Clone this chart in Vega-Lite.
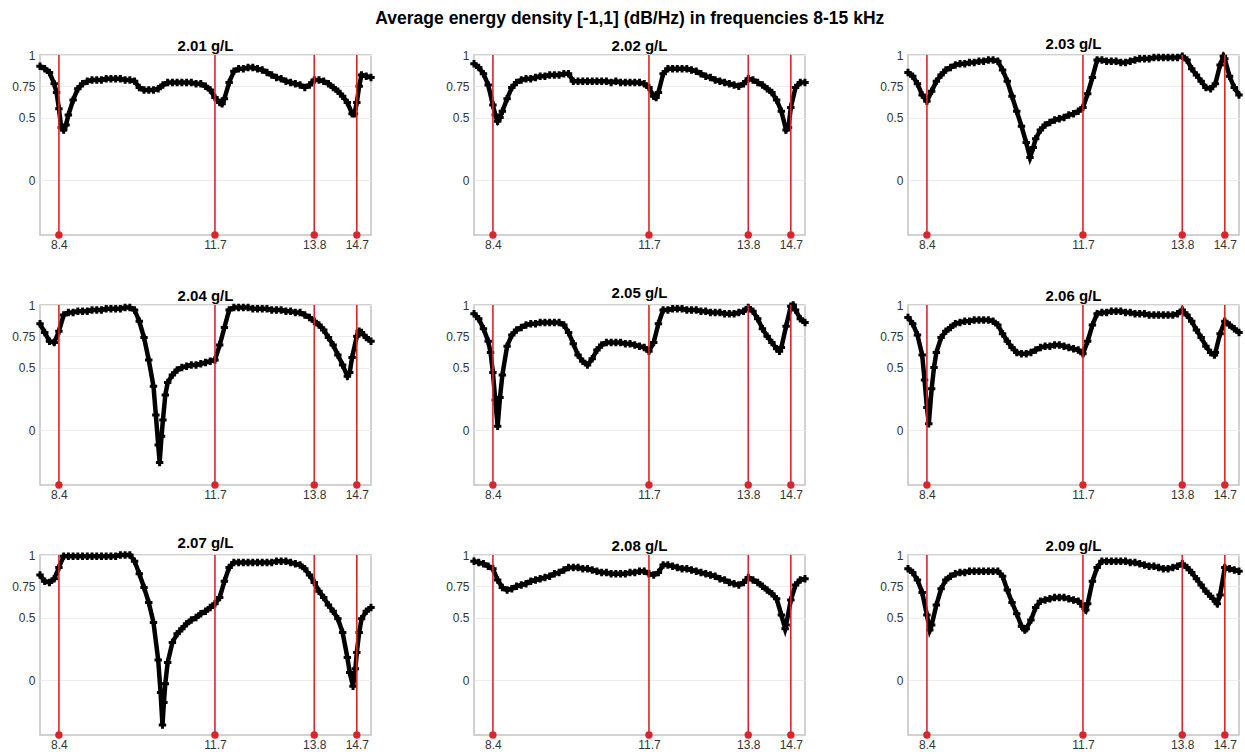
{
  "$schema": "https://vega.github.io/schema/vega-lite/v6.json",
  "background": "white",
  "padding": {"left": 10, "top": 10, "right": 5, "bottom": 5},
  "title": {
    "text": "Average energy density [-1,1] (dB/Hz) in frequencies 8-15 kHz",
    "font": "Liberation Sans", "fontSize": 17.5, "fontWeight": "bold", "color": "black",
    "anchor": "middle", "offset": 9
  },
  "data": {"values": [
    {"c":"2.01 g/L","m":8.4},{"c":"2.01 g/L","m":11.7},{"c":"2.01 g/L","m":13.8},{"c":"2.01 g/L","m":14.7},
    {"c":"2.02 g/L","m":8.4},{"c":"2.02 g/L","m":11.7},{"c":"2.02 g/L","m":13.8},{"c":"2.02 g/L","m":14.7},
    {"c":"2.03 g/L","m":8.4},{"c":"2.03 g/L","m":11.7},{"c":"2.03 g/L","m":13.8},{"c":"2.03 g/L","m":14.7},
    {"c":"2.04 g/L","m":8.4},{"c":"2.04 g/L","m":11.7},{"c":"2.04 g/L","m":13.8},{"c":"2.04 g/L","m":14.7},
    {"c":"2.05 g/L","m":8.4},{"c":"2.05 g/L","m":11.7},{"c":"2.05 g/L","m":13.8},{"c":"2.05 g/L","m":14.7},
    {"c":"2.06 g/L","m":8.4},{"c":"2.06 g/L","m":11.7},{"c":"2.06 g/L","m":13.8},{"c":"2.06 g/L","m":14.7},
    {"c":"2.07 g/L","m":8.4},{"c":"2.07 g/L","m":11.7},{"c":"2.07 g/L","m":13.8},{"c":"2.07 g/L","m":14.7},
    {"c":"2.08 g/L","m":8.4},{"c":"2.08 g/L","m":11.7},{"c":"2.08 g/L","m":13.8},{"c":"2.08 g/L","m":14.7},
    {"c":"2.09 g/L","m":8.4},{"c":"2.09 g/L","m":11.7},{"c":"2.09 g/L","m":13.8},{"c":"2.09 g/L","m":14.7},

    {"c":"2.01 g/L","f":8.0,"v":0.91},{"c":"2.01 g/L","f":8.1,"v":0.89},{"c":"2.01 g/L","f":8.2,"v":0.86},{"c":"2.01 g/L","f":8.3,"v":0.77},{"c":"2.01 g/L","f":8.35,"v":0.70},{"c":"2.01 g/L","f":8.4,"v":0.57},{"c":"2.01 g/L","f":8.45,"v":0.42},{"c":"2.01 g/L","f":8.5,"v":0.40},{"c":"2.01 g/L","f":8.55,"v":0.44},{"c":"2.01 g/L","f":8.6,"v":0.52},{"c":"2.01 g/L","f":8.7,"v":0.64},{"c":"2.01 g/L","f":8.8,"v":0.73},{"c":"2.01 g/L","f":8.9,"v":0.77},{"c":"2.01 g/L","f":9.0,"v":0.79},{"c":"2.01 g/L","f":9.1,"v":0.80},{"c":"2.01 g/L","f":9.2,"v":0.80},{"c":"2.01 g/L","f":9.3,"v":0.80},{"c":"2.01 g/L","f":9.4,"v":0.81},{"c":"2.01 g/L","f":9.5,"v":0.81},{"c":"2.01 g/L","f":9.6,"v":0.81},{"c":"2.01 g/L","f":9.7,"v":0.81},{"c":"2.01 g/L","f":9.8,"v":0.80},{"c":"2.01 g/L","f":9.9,"v":0.80},{"c":"2.01 g/L","f":10.0,"v":0.79},{"c":"2.01 g/L","f":10.1,"v":0.74},{"c":"2.01 g/L","f":10.2,"v":0.72},{"c":"2.01 g/L","f":10.3,"v":0.72},{"c":"2.01 g/L","f":10.4,"v":0.72},{"c":"2.01 g/L","f":10.5,"v":0.73},{"c":"2.01 g/L","f":10.6,"v":0.76},{"c":"2.01 g/L","f":10.7,"v":0.78},{"c":"2.01 g/L","f":10.8,"v":0.78},{"c":"2.01 g/L","f":10.9,"v":0.78},{"c":"2.01 g/L","f":11.0,"v":0.78},{"c":"2.01 g/L","f":11.1,"v":0.78},{"c":"2.01 g/L","f":11.2,"v":0.78},{"c":"2.01 g/L","f":11.3,"v":0.77},{"c":"2.01 g/L","f":11.4,"v":0.77},{"c":"2.01 g/L","f":11.5,"v":0.75},{"c":"2.01 g/L","f":11.6,"v":0.72},{"c":"2.01 g/L","f":11.7,"v":0.66},{"c":"2.01 g/L","f":11.8,"v":0.62},{"c":"2.01 g/L","f":11.85,"v":0.61},{"c":"2.01 g/L","f":11.9,"v":0.65},{"c":"2.01 g/L","f":12.0,"v":0.78},{"c":"2.01 g/L","f":12.1,"v":0.87},{"c":"2.01 g/L","f":12.2,"v":0.89},{"c":"2.01 g/L","f":12.3,"v":0.89},{"c":"2.01 g/L","f":12.4,"v":0.90},{"c":"2.01 g/L","f":12.5,"v":0.90},{"c":"2.01 g/L","f":12.6,"v":0.89},{"c":"2.01 g/L","f":12.7,"v":0.88},{"c":"2.01 g/L","f":12.8,"v":0.86},{"c":"2.01 g/L","f":12.9,"v":0.84},{"c":"2.01 g/L","f":13.0,"v":0.82},{"c":"2.01 g/L","f":13.1,"v":0.81},{"c":"2.01 g/L","f":13.2,"v":0.79},{"c":"2.01 g/L","f":13.3,"v":0.78},{"c":"2.01 g/L","f":13.4,"v":0.77},{"c":"2.01 g/L","f":13.5,"v":0.76},{"c":"2.01 g/L","f":13.6,"v":0.74},{"c":"2.01 g/L","f":13.7,"v":0.76},{"c":"2.01 g/L","f":13.8,"v":0.80},{"c":"2.01 g/L","f":13.9,"v":0.80},{"c":"2.01 g/L","f":14.0,"v":0.79},{"c":"2.01 g/L","f":14.1,"v":0.77},{"c":"2.01 g/L","f":14.2,"v":0.74},{"c":"2.01 g/L","f":14.3,"v":0.71},{"c":"2.01 g/L","f":14.4,"v":0.67},{"c":"2.01 g/L","f":14.5,"v":0.62},{"c":"2.01 g/L","f":14.6,"v":0.53},{"c":"2.01 g/L","f":14.65,"v":0.53},{"c":"2.01 g/L","f":14.7,"v":0.62},{"c":"2.01 g/L","f":14.75,"v":0.75},{"c":"2.01 g/L","f":14.8,"v":0.84},{"c":"2.01 g/L","f":14.9,"v":0.83},{"c":"2.01 g/L","f":15.0,"v":0.82},

    {"c":"2.02 g/L","f":8.0,"v":0.93},{"c":"2.02 g/L","f":8.1,"v":0.90},{"c":"2.02 g/L","f":8.2,"v":0.85},{"c":"2.02 g/L","f":8.3,"v":0.76},{"c":"2.02 g/L","f":8.4,"v":0.60},{"c":"2.02 g/L","f":8.45,"v":0.52},{"c":"2.02 g/L","f":8.5,"v":0.47},{"c":"2.02 g/L","f":8.55,"v":0.50},{"c":"2.02 g/L","f":8.6,"v":0.55},{"c":"2.02 g/L","f":8.7,"v":0.65},{"c":"2.02 g/L","f":8.8,"v":0.74},{"c":"2.02 g/L","f":8.9,"v":0.78},{"c":"2.02 g/L","f":9.0,"v":0.80},{"c":"2.02 g/L","f":9.1,"v":0.81},{"c":"2.02 g/L","f":9.2,"v":0.81},{"c":"2.02 g/L","f":9.3,"v":0.82},{"c":"2.02 g/L","f":9.4,"v":0.83},{"c":"2.02 g/L","f":9.5,"v":0.83},{"c":"2.02 g/L","f":9.6,"v":0.84},{"c":"2.02 g/L","f":9.7,"v":0.84},{"c":"2.02 g/L","f":9.8,"v":0.84},{"c":"2.02 g/L","f":9.9,"v":0.85},{"c":"2.02 g/L","f":10.0,"v":0.85},{"c":"2.02 g/L","f":10.1,"v":0.79},{"c":"2.02 g/L","f":10.2,"v":0.79},{"c":"2.02 g/L","f":10.3,"v":0.79},{"c":"2.02 g/L","f":10.4,"v":0.79},{"c":"2.02 g/L","f":10.5,"v":0.79},{"c":"2.02 g/L","f":10.6,"v":0.79},{"c":"2.02 g/L","f":10.7,"v":0.79},{"c":"2.02 g/L","f":10.8,"v":0.79},{"c":"2.02 g/L","f":10.9,"v":0.78},{"c":"2.02 g/L","f":11.0,"v":0.79},{"c":"2.02 g/L","f":11.1,"v":0.78},{"c":"2.02 g/L","f":11.2,"v":0.78},{"c":"2.02 g/L","f":11.3,"v":0.78},{"c":"2.02 g/L","f":11.4,"v":0.78},{"c":"2.02 g/L","f":11.5,"v":0.78},{"c":"2.02 g/L","f":11.6,"v":0.77},{"c":"2.02 g/L","f":11.7,"v":0.74},{"c":"2.02 g/L","f":11.8,"v":0.67},{"c":"2.02 g/L","f":11.85,"v":0.66},{"c":"2.02 g/L","f":11.9,"v":0.70},{"c":"2.02 g/L","f":12.0,"v":0.85},{"c":"2.02 g/L","f":12.1,"v":0.89},{"c":"2.02 g/L","f":12.2,"v":0.89},{"c":"2.02 g/L","f":12.3,"v":0.89},{"c":"2.02 g/L","f":12.4,"v":0.89},{"c":"2.02 g/L","f":12.5,"v":0.89},{"c":"2.02 g/L","f":12.6,"v":0.88},{"c":"2.02 g/L","f":12.7,"v":0.87},{"c":"2.02 g/L","f":12.8,"v":0.85},{"c":"2.02 g/L","f":12.9,"v":0.83},{"c":"2.02 g/L","f":13.0,"v":0.82},{"c":"2.02 g/L","f":13.1,"v":0.80},{"c":"2.02 g/L","f":13.2,"v":0.79},{"c":"2.02 g/L","f":13.3,"v":0.78},{"c":"2.02 g/L","f":13.4,"v":0.77},{"c":"2.02 g/L","f":13.5,"v":0.76},{"c":"2.02 g/L","f":13.6,"v":0.75},{"c":"2.02 g/L","f":13.7,"v":0.77},{"c":"2.02 g/L","f":13.8,"v":0.81},{"c":"2.02 g/L","f":13.9,"v":0.80},{"c":"2.02 g/L","f":14.0,"v":0.78},{"c":"2.02 g/L","f":14.1,"v":0.76},{"c":"2.02 g/L","f":14.2,"v":0.73},{"c":"2.02 g/L","f":14.3,"v":0.70},{"c":"2.02 g/L","f":14.4,"v":0.64},{"c":"2.02 g/L","f":14.5,"v":0.55},{"c":"2.02 g/L","f":14.6,"v":0.40},{"c":"2.02 g/L","f":14.65,"v":0.42},{"c":"2.02 g/L","f":14.7,"v":0.58},{"c":"2.02 g/L","f":14.8,"v":0.74},{"c":"2.02 g/L","f":14.9,"v":0.78},{"c":"2.02 g/L","f":15.0,"v":0.78},

    {"c":"2.03 g/L","f":8.0,"v":0.86},{"c":"2.03 g/L","f":8.1,"v":0.83},{"c":"2.03 g/L","f":8.2,"v":0.77},{"c":"2.03 g/L","f":8.3,"v":0.68},{"c":"2.03 g/L","f":8.4,"v":0.63},{"c":"2.03 g/L","f":8.5,"v":0.71},{"c":"2.03 g/L","f":8.6,"v":0.79},{"c":"2.03 g/L","f":8.7,"v":0.84},{"c":"2.03 g/L","f":8.8,"v":0.88},{"c":"2.03 g/L","f":8.9,"v":0.90},{"c":"2.03 g/L","f":9.0,"v":0.92},{"c":"2.03 g/L","f":9.1,"v":0.93},{"c":"2.03 g/L","f":9.2,"v":0.93},{"c":"2.03 g/L","f":9.3,"v":0.94},{"c":"2.03 g/L","f":9.4,"v":0.94},{"c":"2.03 g/L","f":9.5,"v":0.95},{"c":"2.03 g/L","f":9.6,"v":0.95},{"c":"2.03 g/L","f":9.7,"v":0.96},{"c":"2.03 g/L","f":9.8,"v":0.96},{"c":"2.03 g/L","f":9.9,"v":0.95},{"c":"2.03 g/L","f":10.0,"v":0.88},{"c":"2.03 g/L","f":10.1,"v":0.79},{"c":"2.03 g/L","f":10.2,"v":0.67},{"c":"2.03 g/L","f":10.3,"v":0.55},{"c":"2.03 g/L","f":10.4,"v":0.43},{"c":"2.03 g/L","f":10.5,"v":0.30},{"c":"2.03 g/L","f":10.58,"v":0.18},{"c":"2.03 g/L","f":10.65,"v":0.26},{"c":"2.03 g/L","f":10.7,"v":0.33},{"c":"2.03 g/L","f":10.8,"v":0.40},{"c":"2.03 g/L","f":10.9,"v":0.44},{"c":"2.03 g/L","f":11.0,"v":0.46},{"c":"2.03 g/L","f":11.1,"v":0.48},{"c":"2.03 g/L","f":11.2,"v":0.49},{"c":"2.03 g/L","f":11.3,"v":0.50},{"c":"2.03 g/L","f":11.4,"v":0.52},{"c":"2.03 g/L","f":11.5,"v":0.53},{"c":"2.03 g/L","f":11.6,"v":0.55},{"c":"2.03 g/L","f":11.7,"v":0.58},{"c":"2.03 g/L","f":11.8,"v":0.69},{"c":"2.03 g/L","f":11.9,"v":0.82},{"c":"2.03 g/L","f":12.0,"v":0.96},{"c":"2.03 g/L","f":12.1,"v":0.96},{"c":"2.03 g/L","f":12.2,"v":0.95},{"c":"2.03 g/L","f":12.3,"v":0.95},{"c":"2.03 g/L","f":12.4,"v":0.95},{"c":"2.03 g/L","f":12.5,"v":0.94},{"c":"2.03 g/L","f":12.6,"v":0.94},{"c":"2.03 g/L","f":12.7,"v":0.95},{"c":"2.03 g/L","f":12.8,"v":0.96},{"c":"2.03 g/L","f":12.9,"v":0.97},{"c":"2.03 g/L","f":13.0,"v":0.97},{"c":"2.03 g/L","f":13.1,"v":0.97},{"c":"2.03 g/L","f":13.2,"v":0.98},{"c":"2.03 g/L","f":13.3,"v":0.98},{"c":"2.03 g/L","f":13.4,"v":0.98},{"c":"2.03 g/L","f":13.5,"v":0.98},{"c":"2.03 g/L","f":13.6,"v":0.98},{"c":"2.03 g/L","f":13.7,"v":0.98},{"c":"2.03 g/L","f":13.8,"v":0.99},{"c":"2.03 g/L","f":13.9,"v":0.96},{"c":"2.03 g/L","f":14.0,"v":0.89},{"c":"2.03 g/L","f":14.1,"v":0.84},{"c":"2.03 g/L","f":14.2,"v":0.79},{"c":"2.03 g/L","f":14.3,"v":0.74},{"c":"2.03 g/L","f":14.4,"v":0.73},{"c":"2.03 g/L","f":14.5,"v":0.77},{"c":"2.03 g/L","f":14.6,"v":0.92},{"c":"2.03 g/L","f":14.67,"v":0.99},{"c":"2.03 g/L","f":14.7,"v":0.97},{"c":"2.03 g/L","f":14.8,"v":0.83},{"c":"2.03 g/L","f":14.9,"v":0.74},{"c":"2.03 g/L","f":15.0,"v":0.68},

    {"c":"2.04 g/L","f":8.0,"v":0.85},{"c":"2.04 g/L","f":8.1,"v":0.78},{"c":"2.04 g/L","f":8.2,"v":0.71},{"c":"2.04 g/L","f":8.3,"v":0.70},{"c":"2.04 g/L","f":8.4,"v":0.79},{"c":"2.04 g/L","f":8.5,"v":0.92},{"c":"2.04 g/L","f":8.6,"v":0.94},{"c":"2.04 g/L","f":8.7,"v":0.94},{"c":"2.04 g/L","f":8.8,"v":0.95},{"c":"2.04 g/L","f":8.9,"v":0.95},{"c":"2.04 g/L","f":9.0,"v":0.95},{"c":"2.04 g/L","f":9.1,"v":0.96},{"c":"2.04 g/L","f":9.2,"v":0.96},{"c":"2.04 g/L","f":9.3,"v":0.96},{"c":"2.04 g/L","f":9.4,"v":0.97},{"c":"2.04 g/L","f":9.5,"v":0.97},{"c":"2.04 g/L","f":9.6,"v":0.97},{"c":"2.04 g/L","f":9.7,"v":0.97},{"c":"2.04 g/L","f":9.8,"v":0.98},{"c":"2.04 g/L","f":9.9,"v":0.98},{"c":"2.04 g/L","f":10.0,"v":0.96},{"c":"2.04 g/L","f":10.1,"v":0.87},{"c":"2.04 g/L","f":10.2,"v":0.74},{"c":"2.04 g/L","f":10.3,"v":0.56},{"c":"2.04 g/L","f":10.4,"v":0.35},{"c":"2.04 g/L","f":10.45,"v":0.12},{"c":"2.04 g/L","f":10.5,"v":-0.12},{"c":"2.04 g/L","f":10.53,"v":-0.26},{"c":"2.04 g/L","f":10.57,"v":-0.05},{"c":"2.04 g/L","f":10.6,"v":0.08},{"c":"2.04 g/L","f":10.65,"v":0.28},{"c":"2.04 g/L","f":10.7,"v":0.38},{"c":"2.04 g/L","f":10.8,"v":0.44},{"c":"2.04 g/L","f":10.9,"v":0.48},{"c":"2.04 g/L","f":11.0,"v":0.50},{"c":"2.04 g/L","f":11.1,"v":0.51},{"c":"2.04 g/L","f":11.2,"v":0.52},{"c":"2.04 g/L","f":11.3,"v":0.52},{"c":"2.04 g/L","f":11.4,"v":0.53},{"c":"2.04 g/L","f":11.5,"v":0.54},{"c":"2.04 g/L","f":11.6,"v":0.55},{"c":"2.04 g/L","f":11.7,"v":0.56},{"c":"2.04 g/L","f":11.8,"v":0.68},{"c":"2.04 g/L","f":11.9,"v":0.82},{"c":"2.04 g/L","f":12.0,"v":0.96},{"c":"2.04 g/L","f":12.1,"v":0.98},{"c":"2.04 g/L","f":12.2,"v":0.98},{"c":"2.04 g/L","f":12.3,"v":0.98},{"c":"2.04 g/L","f":12.4,"v":0.98},{"c":"2.04 g/L","f":12.5,"v":0.97},{"c":"2.04 g/L","f":12.6,"v":0.97},{"c":"2.04 g/L","f":12.7,"v":0.97},{"c":"2.04 g/L","f":12.8,"v":0.97},{"c":"2.04 g/L","f":12.9,"v":0.96},{"c":"2.04 g/L","f":13.0,"v":0.96},{"c":"2.04 g/L","f":13.1,"v":0.96},{"c":"2.04 g/L","f":13.2,"v":0.95},{"c":"2.04 g/L","f":13.3,"v":0.95},{"c":"2.04 g/L","f":13.4,"v":0.94},{"c":"2.04 g/L","f":13.5,"v":0.94},{"c":"2.04 g/L","f":13.6,"v":0.92},{"c":"2.04 g/L","f":13.7,"v":0.90},{"c":"2.04 g/L","f":13.8,"v":0.87},{"c":"2.04 g/L","f":13.9,"v":0.84},{"c":"2.04 g/L","f":14.0,"v":0.80},{"c":"2.04 g/L","f":14.1,"v":0.74},{"c":"2.04 g/L","f":14.2,"v":0.68},{"c":"2.04 g/L","f":14.3,"v":0.60},{"c":"2.04 g/L","f":14.4,"v":0.52},{"c":"2.04 g/L","f":14.5,"v":0.43},{"c":"2.04 g/L","f":14.55,"v":0.46},{"c":"2.04 g/L","f":14.6,"v":0.58},{"c":"2.04 g/L","f":14.7,"v":0.75},{"c":"2.04 g/L","f":14.75,"v":0.79},{"c":"2.04 g/L","f":14.8,"v":0.78},{"c":"2.04 g/L","f":14.9,"v":0.74},{"c":"2.04 g/L","f":15.0,"v":0.71},

    {"c":"2.05 g/L","f":8.0,"v":0.93},{"c":"2.05 g/L","f":8.1,"v":0.89},{"c":"2.05 g/L","f":8.2,"v":0.81},{"c":"2.05 g/L","f":8.3,"v":0.71},{"c":"2.05 g/L","f":8.35,"v":0.62},{"c":"2.05 g/L","f":8.4,"v":0.46},{"c":"2.05 g/L","f":8.45,"v":0.24},{"c":"2.05 g/L","f":8.5,"v":0.03},{"c":"2.05 g/L","f":8.55,"v":0.26},{"c":"2.05 g/L","f":8.6,"v":0.44},{"c":"2.05 g/L","f":8.7,"v":0.67},{"c":"2.05 g/L","f":8.8,"v":0.76},{"c":"2.05 g/L","f":8.9,"v":0.80},{"c":"2.05 g/L","f":9.0,"v":0.82},{"c":"2.05 g/L","f":9.1,"v":0.84},{"c":"2.05 g/L","f":9.2,"v":0.85},{"c":"2.05 g/L","f":9.3,"v":0.85},{"c":"2.05 g/L","f":9.4,"v":0.86},{"c":"2.05 g/L","f":9.5,"v":0.86},{"c":"2.05 g/L","f":9.6,"v":0.86},{"c":"2.05 g/L","f":9.7,"v":0.86},{"c":"2.05 g/L","f":9.8,"v":0.86},{"c":"2.05 g/L","f":9.9,"v":0.84},{"c":"2.05 g/L","f":10.0,"v":0.78},{"c":"2.05 g/L","f":10.1,"v":0.69},{"c":"2.05 g/L","f":10.2,"v":0.60},{"c":"2.05 g/L","f":10.3,"v":0.55},{"c":"2.05 g/L","f":10.4,"v":0.52},{"c":"2.05 g/L","f":10.5,"v":0.57},{"c":"2.05 g/L","f":10.6,"v":0.64},{"c":"2.05 g/L","f":10.7,"v":0.68},{"c":"2.05 g/L","f":10.8,"v":0.70},{"c":"2.05 g/L","f":10.9,"v":0.70},{"c":"2.05 g/L","f":11.0,"v":0.70},{"c":"2.05 g/L","f":11.1,"v":0.70},{"c":"2.05 g/L","f":11.2,"v":0.69},{"c":"2.05 g/L","f":11.3,"v":0.69},{"c":"2.05 g/L","f":11.4,"v":0.68},{"c":"2.05 g/L","f":11.5,"v":0.67},{"c":"2.05 g/L","f":11.6,"v":0.66},{"c":"2.05 g/L","f":11.7,"v":0.63},{"c":"2.05 g/L","f":11.8,"v":0.70},{"c":"2.05 g/L","f":11.9,"v":0.85},{"c":"2.05 g/L","f":12.0,"v":0.96},{"c":"2.05 g/L","f":12.1,"v":0.96},{"c":"2.05 g/L","f":12.2,"v":0.97},{"c":"2.05 g/L","f":12.3,"v":0.97},{"c":"2.05 g/L","f":12.4,"v":0.97},{"c":"2.05 g/L","f":12.5,"v":0.96},{"c":"2.05 g/L","f":12.6,"v":0.96},{"c":"2.05 g/L","f":12.7,"v":0.96},{"c":"2.05 g/L","f":12.8,"v":0.95},{"c":"2.05 g/L","f":12.9,"v":0.95},{"c":"2.05 g/L","f":13.0,"v":0.94},{"c":"2.05 g/L","f":13.1,"v":0.94},{"c":"2.05 g/L","f":13.2,"v":0.94},{"c":"2.05 g/L","f":13.3,"v":0.93},{"c":"2.05 g/L","f":13.4,"v":0.93},{"c":"2.05 g/L","f":13.5,"v":0.93},{"c":"2.05 g/L","f":13.6,"v":0.94},{"c":"2.05 g/L","f":13.7,"v":0.95},{"c":"2.05 g/L","f":13.8,"v":0.98},{"c":"2.05 g/L","f":13.9,"v":0.95},{"c":"2.05 g/L","f":14.0,"v":0.89},{"c":"2.05 g/L","f":14.1,"v":0.81},{"c":"2.05 g/L","f":14.2,"v":0.75},{"c":"2.05 g/L","f":14.3,"v":0.70},{"c":"2.05 g/L","f":14.4,"v":0.65},{"c":"2.05 g/L","f":14.46,"v":0.63},{"c":"2.05 g/L","f":14.5,"v":0.66},{"c":"2.05 g/L","f":14.6,"v":0.83},{"c":"2.05 g/L","f":14.7,"v":0.99},{"c":"2.05 g/L","f":14.75,"v":1.0},{"c":"2.05 g/L","f":14.8,"v":0.96},{"c":"2.05 g/L","f":14.9,"v":0.89},{"c":"2.05 g/L","f":15.0,"v":0.86},

    {"c":"2.06 g/L","f":8.0,"v":0.90},{"c":"2.06 g/L","f":8.1,"v":0.85},{"c":"2.06 g/L","f":8.2,"v":0.76},{"c":"2.06 g/L","f":8.3,"v":0.60},{"c":"2.06 g/L","f":8.35,"v":0.40},{"c":"2.06 g/L","f":8.4,"v":0.18},{"c":"2.06 g/L","f":8.44,"v":0.05},{"c":"2.06 g/L","f":8.5,"v":0.33},{"c":"2.06 g/L","f":8.55,"v":0.50},{"c":"2.06 g/L","f":8.6,"v":0.62},{"c":"2.06 g/L","f":8.7,"v":0.74},{"c":"2.06 g/L","f":8.8,"v":0.79},{"c":"2.06 g/L","f":8.9,"v":0.82},{"c":"2.06 g/L","f":9.0,"v":0.85},{"c":"2.06 g/L","f":9.1,"v":0.86},{"c":"2.06 g/L","f":9.2,"v":0.87},{"c":"2.06 g/L","f":9.3,"v":0.87},{"c":"2.06 g/L","f":9.4,"v":0.88},{"c":"2.06 g/L","f":9.5,"v":0.88},{"c":"2.06 g/L","f":9.6,"v":0.88},{"c":"2.06 g/L","f":9.7,"v":0.88},{"c":"2.06 g/L","f":9.8,"v":0.87},{"c":"2.06 g/L","f":9.9,"v":0.84},{"c":"2.06 g/L","f":10.0,"v":0.77},{"c":"2.06 g/L","f":10.1,"v":0.71},{"c":"2.06 g/L","f":10.2,"v":0.66},{"c":"2.06 g/L","f":10.3,"v":0.62},{"c":"2.06 g/L","f":10.4,"v":0.61},{"c":"2.06 g/L","f":10.5,"v":0.61},{"c":"2.06 g/L","f":10.6,"v":0.62},{"c":"2.06 g/L","f":10.7,"v":0.64},{"c":"2.06 g/L","f":10.8,"v":0.66},{"c":"2.06 g/L","f":10.9,"v":0.67},{"c":"2.06 g/L","f":11.0,"v":0.67},{"c":"2.06 g/L","f":11.1,"v":0.68},{"c":"2.06 g/L","f":11.2,"v":0.68},{"c":"2.06 g/L","f":11.3,"v":0.67},{"c":"2.06 g/L","f":11.4,"v":0.66},{"c":"2.06 g/L","f":11.5,"v":0.65},{"c":"2.06 g/L","f":11.6,"v":0.64},{"c":"2.06 g/L","f":11.7,"v":0.61},{"c":"2.06 g/L","f":11.8,"v":0.71},{"c":"2.06 g/L","f":11.9,"v":0.84},{"c":"2.06 g/L","f":12.0,"v":0.93},{"c":"2.06 g/L","f":12.1,"v":0.94},{"c":"2.06 g/L","f":12.2,"v":0.94},{"c":"2.06 g/L","f":12.3,"v":0.95},{"c":"2.06 g/L","f":12.4,"v":0.95},{"c":"2.06 g/L","f":12.5,"v":0.95},{"c":"2.06 g/L","f":12.6,"v":0.94},{"c":"2.06 g/L","f":12.7,"v":0.94},{"c":"2.06 g/L","f":12.8,"v":0.93},{"c":"2.06 g/L","f":12.9,"v":0.93},{"c":"2.06 g/L","f":13.0,"v":0.93},{"c":"2.06 g/L","f":13.1,"v":0.92},{"c":"2.06 g/L","f":13.2,"v":0.92},{"c":"2.06 g/L","f":13.3,"v":0.92},{"c":"2.06 g/L","f":13.4,"v":0.92},{"c":"2.06 g/L","f":13.5,"v":0.92},{"c":"2.06 g/L","f":13.6,"v":0.92},{"c":"2.06 g/L","f":13.7,"v":0.93},{"c":"2.06 g/L","f":13.8,"v":0.96},{"c":"2.06 g/L","f":13.9,"v":0.92},{"c":"2.06 g/L","f":14.0,"v":0.87},{"c":"2.06 g/L","f":14.1,"v":0.80},{"c":"2.06 g/L","f":14.2,"v":0.74},{"c":"2.06 g/L","f":14.3,"v":0.67},{"c":"2.06 g/L","f":14.4,"v":0.62},{"c":"2.06 g/L","f":14.48,"v":0.60},{"c":"2.06 g/L","f":14.5,"v":0.62},{"c":"2.06 g/L","f":14.6,"v":0.77},{"c":"2.06 g/L","f":14.7,"v":0.87},{"c":"2.06 g/L","f":14.8,"v":0.84},{"c":"2.06 g/L","f":14.9,"v":0.81},{"c":"2.06 g/L","f":15.0,"v":0.78},

    {"c":"2.07 g/L","f":8.0,"v":0.84},{"c":"2.07 g/L","f":8.1,"v":0.79},{"c":"2.07 g/L","f":8.2,"v":0.78},{"c":"2.07 g/L","f":8.3,"v":0.81},{"c":"2.07 g/L","f":8.4,"v":0.90},{"c":"2.07 g/L","f":8.5,"v":0.99},{"c":"2.07 g/L","f":8.6,"v":0.99},{"c":"2.07 g/L","f":8.7,"v":0.99},{"c":"2.07 g/L","f":8.8,"v":0.99},{"c":"2.07 g/L","f":8.9,"v":0.99},{"c":"2.07 g/L","f":9.0,"v":0.99},{"c":"2.07 g/L","f":9.1,"v":0.99},{"c":"2.07 g/L","f":9.2,"v":0.99},{"c":"2.07 g/L","f":9.3,"v":0.99},{"c":"2.07 g/L","f":9.4,"v":0.99},{"c":"2.07 g/L","f":9.5,"v":0.99},{"c":"2.07 g/L","f":9.6,"v":0.99},{"c":"2.07 g/L","f":9.7,"v":1.0},{"c":"2.07 g/L","f":9.8,"v":1.0},{"c":"2.07 g/L","f":9.9,"v":1.0},{"c":"2.07 g/L","f":10.0,"v":0.95},{"c":"2.07 g/L","f":10.1,"v":0.85},{"c":"2.07 g/L","f":10.2,"v":0.74},{"c":"2.07 g/L","f":10.3,"v":0.62},{"c":"2.07 g/L","f":10.4,"v":0.46},{"c":"2.07 g/L","f":10.5,"v":0.16},{"c":"2.07 g/L","f":10.55,"v":-0.10},{"c":"2.07 g/L","f":10.59,"v":-0.36},{"c":"2.07 g/L","f":10.62,"v":-0.18},{"c":"2.07 g/L","f":10.65,"v":-0.03},{"c":"2.07 g/L","f":10.7,"v":0.14},{"c":"2.07 g/L","f":10.8,"v":0.30},{"c":"2.07 g/L","f":10.9,"v":0.37},{"c":"2.07 g/L","f":11.0,"v":0.41},{"c":"2.07 g/L","f":11.1,"v":0.45},{"c":"2.07 g/L","f":11.2,"v":0.48},{"c":"2.07 g/L","f":11.3,"v":0.50},{"c":"2.07 g/L","f":11.4,"v":0.53},{"c":"2.07 g/L","f":11.5,"v":0.55},{"c":"2.07 g/L","f":11.6,"v":0.58},{"c":"2.07 g/L","f":11.7,"v":0.61},{"c":"2.07 g/L","f":11.8,"v":0.66},{"c":"2.07 g/L","f":11.9,"v":0.79},{"c":"2.07 g/L","f":12.0,"v":0.90},{"c":"2.07 g/L","f":12.1,"v":0.94},{"c":"2.07 g/L","f":12.2,"v":0.94},{"c":"2.07 g/L","f":12.3,"v":0.94},{"c":"2.07 g/L","f":12.4,"v":0.94},{"c":"2.07 g/L","f":12.5,"v":0.94},{"c":"2.07 g/L","f":12.6,"v":0.94},{"c":"2.07 g/L","f":12.7,"v":0.94},{"c":"2.07 g/L","f":12.8,"v":0.94},{"c":"2.07 g/L","f":12.9,"v":0.94},{"c":"2.07 g/L","f":13.0,"v":0.95},{"c":"2.07 g/L","f":13.1,"v":0.95},{"c":"2.07 g/L","f":13.2,"v":0.95},{"c":"2.07 g/L","f":13.3,"v":0.94},{"c":"2.07 g/L","f":13.4,"v":0.93},{"c":"2.07 g/L","f":13.5,"v":0.92},{"c":"2.07 g/L","f":13.6,"v":0.89},{"c":"2.07 g/L","f":13.7,"v":0.84},{"c":"2.07 g/L","f":13.8,"v":0.78},{"c":"2.07 g/L","f":13.9,"v":0.71},{"c":"2.07 g/L","f":14.0,"v":0.66},{"c":"2.07 g/L","f":14.1,"v":0.60},{"c":"2.07 g/L","f":14.2,"v":0.55},{"c":"2.07 g/L","f":14.3,"v":0.49},{"c":"2.07 g/L","f":14.4,"v":0.38},{"c":"2.07 g/L","f":14.5,"v":0.18},{"c":"2.07 g/L","f":14.55,"v":0.06},{"c":"2.07 g/L","f":14.62,"v":-0.05},{"c":"2.07 g/L","f":14.67,"v":0.09},{"c":"2.07 g/L","f":14.7,"v":0.22},{"c":"2.07 g/L","f":14.75,"v":0.38},{"c":"2.07 g/L","f":14.8,"v":0.49},{"c":"2.07 g/L","f":14.9,"v":0.55},{"c":"2.07 g/L","f":15.0,"v":0.58},

    {"c":"2.08 g/L","f":8.0,"v":0.95},{"c":"2.08 g/L","f":8.1,"v":0.94},{"c":"2.08 g/L","f":8.2,"v":0.93},{"c":"2.08 g/L","f":8.3,"v":0.91},{"c":"2.08 g/L","f":8.4,"v":0.89},{"c":"2.08 g/L","f":8.5,"v":0.80},{"c":"2.08 g/L","f":8.6,"v":0.74},{"c":"2.08 g/L","f":8.7,"v":0.72},{"c":"2.08 g/L","f":8.8,"v":0.73},{"c":"2.08 g/L","f":8.9,"v":0.75},{"c":"2.08 g/L","f":9.0,"v":0.76},{"c":"2.08 g/L","f":9.1,"v":0.77},{"c":"2.08 g/L","f":9.2,"v":0.79},{"c":"2.08 g/L","f":9.3,"v":0.80},{"c":"2.08 g/L","f":9.4,"v":0.81},{"c":"2.08 g/L","f":9.5,"v":0.82},{"c":"2.08 g/L","f":9.6,"v":0.83},{"c":"2.08 g/L","f":9.7,"v":0.85},{"c":"2.08 g/L","f":9.8,"v":0.86},{"c":"2.08 g/L","f":9.9,"v":0.88},{"c":"2.08 g/L","f":10.0,"v":0.90},{"c":"2.08 g/L","f":10.1,"v":0.90},{"c":"2.08 g/L","f":10.2,"v":0.90},{"c":"2.08 g/L","f":10.3,"v":0.89},{"c":"2.08 g/L","f":10.4,"v":0.89},{"c":"2.08 g/L","f":10.5,"v":0.88},{"c":"2.08 g/L","f":10.6,"v":0.87},{"c":"2.08 g/L","f":10.7,"v":0.86},{"c":"2.08 g/L","f":10.8,"v":0.86},{"c":"2.08 g/L","f":10.9,"v":0.85},{"c":"2.08 g/L","f":11.0,"v":0.85},{"c":"2.08 g/L","f":11.1,"v":0.85},{"c":"2.08 g/L","f":11.2,"v":0.85},{"c":"2.08 g/L","f":11.3,"v":0.86},{"c":"2.08 g/L","f":11.4,"v":0.86},{"c":"2.08 g/L","f":11.5,"v":0.87},{"c":"2.08 g/L","f":11.6,"v":0.87},{"c":"2.08 g/L","f":11.7,"v":0.85},{"c":"2.08 g/L","f":11.8,"v":0.84},{"c":"2.08 g/L","f":11.9,"v":0.86},{"c":"2.08 g/L","f":12.0,"v":0.92},{"c":"2.08 g/L","f":12.1,"v":0.92},{"c":"2.08 g/L","f":12.2,"v":0.91},{"c":"2.08 g/L","f":12.3,"v":0.90},{"c":"2.08 g/L","f":12.4,"v":0.89},{"c":"2.08 g/L","f":12.5,"v":0.89},{"c":"2.08 g/L","f":12.6,"v":0.88},{"c":"2.08 g/L","f":12.7,"v":0.87},{"c":"2.08 g/L","f":12.8,"v":0.86},{"c":"2.08 g/L","f":12.9,"v":0.85},{"c":"2.08 g/L","f":13.0,"v":0.84},{"c":"2.08 g/L","f":13.1,"v":0.83},{"c":"2.08 g/L","f":13.2,"v":0.81},{"c":"2.08 g/L","f":13.3,"v":0.80},{"c":"2.08 g/L","f":13.4,"v":0.78},{"c":"2.08 g/L","f":13.5,"v":0.77},{"c":"2.08 g/L","f":13.6,"v":0.76},{"c":"2.08 g/L","f":13.7,"v":0.78},{"c":"2.08 g/L","f":13.8,"v":0.82},{"c":"2.08 g/L","f":13.9,"v":0.80},{"c":"2.08 g/L","f":14.0,"v":0.78},{"c":"2.08 g/L","f":14.1,"v":0.75},{"c":"2.08 g/L","f":14.2,"v":0.72},{"c":"2.08 g/L","f":14.3,"v":0.69},{"c":"2.08 g/L","f":14.4,"v":0.65},{"c":"2.08 g/L","f":14.5,"v":0.52},{"c":"2.08 g/L","f":14.58,"v":0.41},{"c":"2.08 g/L","f":14.6,"v":0.44},{"c":"2.08 g/L","f":14.7,"v":0.64},{"c":"2.08 g/L","f":14.8,"v":0.76},{"c":"2.08 g/L","f":14.9,"v":0.80},{"c":"2.08 g/L","f":15.0,"v":0.81},

    {"c":"2.09 g/L","f":8.0,"v":0.89},{"c":"2.09 g/L","f":8.1,"v":0.86},{"c":"2.09 g/L","f":8.2,"v":0.80},{"c":"2.09 g/L","f":8.3,"v":0.70},{"c":"2.09 g/L","f":8.4,"v":0.52},{"c":"2.09 g/L","f":8.46,"v":0.40},{"c":"2.09 g/L","f":8.5,"v":0.44},{"c":"2.09 g/L","f":8.6,"v":0.60},{"c":"2.09 g/L","f":8.7,"v":0.73},{"c":"2.09 g/L","f":8.8,"v":0.80},{"c":"2.09 g/L","f":8.9,"v":0.83},{"c":"2.09 g/L","f":9.0,"v":0.85},{"c":"2.09 g/L","f":9.1,"v":0.86},{"c":"2.09 g/L","f":9.2,"v":0.86},{"c":"2.09 g/L","f":9.3,"v":0.87},{"c":"2.09 g/L","f":9.4,"v":0.87},{"c":"2.09 g/L","f":9.5,"v":0.87},{"c":"2.09 g/L","f":9.6,"v":0.87},{"c":"2.09 g/L","f":9.7,"v":0.87},{"c":"2.09 g/L","f":9.8,"v":0.87},{"c":"2.09 g/L","f":9.9,"v":0.87},{"c":"2.09 g/L","f":10.0,"v":0.83},{"c":"2.09 g/L","f":10.1,"v":0.72},{"c":"2.09 g/L","f":10.2,"v":0.62},{"c":"2.09 g/L","f":10.3,"v":0.53},{"c":"2.09 g/L","f":10.4,"v":0.43},{"c":"2.09 g/L","f":10.47,"v":0.40},{"c":"2.09 g/L","f":10.5,"v":0.41},{"c":"2.09 g/L","f":10.6,"v":0.48},{"c":"2.09 g/L","f":10.7,"v":0.58},{"c":"2.09 g/L","f":10.8,"v":0.63},{"c":"2.09 g/L","f":10.9,"v":0.64},{"c":"2.09 g/L","f":11.0,"v":0.65},{"c":"2.09 g/L","f":11.1,"v":0.66},{"c":"2.09 g/L","f":11.2,"v":0.66},{"c":"2.09 g/L","f":11.3,"v":0.66},{"c":"2.09 g/L","f":11.4,"v":0.65},{"c":"2.09 g/L","f":11.5,"v":0.64},{"c":"2.09 g/L","f":11.6,"v":0.63},{"c":"2.09 g/L","f":11.7,"v":0.59},{"c":"2.09 g/L","f":11.76,"v":0.56},{"c":"2.09 g/L","f":11.8,"v":0.61},{"c":"2.09 g/L","f":11.9,"v":0.79},{"c":"2.09 g/L","f":12.0,"v":0.90},{"c":"2.09 g/L","f":12.1,"v":0.95},{"c":"2.09 g/L","f":12.2,"v":0.95},{"c":"2.09 g/L","f":12.3,"v":0.95},{"c":"2.09 g/L","f":12.4,"v":0.95},{"c":"2.09 g/L","f":12.5,"v":0.95},{"c":"2.09 g/L","f":12.6,"v":0.95},{"c":"2.09 g/L","f":12.7,"v":0.94},{"c":"2.09 g/L","f":12.8,"v":0.94},{"c":"2.09 g/L","f":12.9,"v":0.93},{"c":"2.09 g/L","f":13.0,"v":0.92},{"c":"2.09 g/L","f":13.1,"v":0.91},{"c":"2.09 g/L","f":13.2,"v":0.91},{"c":"2.09 g/L","f":13.3,"v":0.90},{"c":"2.09 g/L","f":13.4,"v":0.89},{"c":"2.09 g/L","f":13.5,"v":0.89},{"c":"2.09 g/L","f":13.6,"v":0.90},{"c":"2.09 g/L","f":13.7,"v":0.91},{"c":"2.09 g/L","f":13.8,"v":0.93},{"c":"2.09 g/L","f":13.9,"v":0.90},{"c":"2.09 g/L","f":14.0,"v":0.86},{"c":"2.09 g/L","f":14.1,"v":0.81},{"c":"2.09 g/L","f":14.2,"v":0.76},{"c":"2.09 g/L","f":14.3,"v":0.71},{"c":"2.09 g/L","f":14.4,"v":0.67},{"c":"2.09 g/L","f":14.5,"v":0.63},{"c":"2.09 g/L","f":14.54,"v":0.61},{"c":"2.09 g/L","f":14.6,"v":0.68},{"c":"2.09 g/L","f":14.7,"v":0.90},{"c":"2.09 g/L","f":14.8,"v":0.89},{"c":"2.09 g/L","f":14.9,"v":0.88},{"c":"2.09 g/L","f":15.0,"v":0.87}
  ]},
  "facet": {
    "field": "c", "type": "nominal",
    "header": {
      "title": null,
      "labelFont": "Liberation Sans", "labelFontSize": 15, "labelFontWeight": "bold",
      "labelColor": "black", "labelPadding": -5
    }
  },
  "columns": 3,
  "bounds": "flush",
  "spacing": {"column": 103, "row": 70},
  "resolve": {"axis": {"x": "independent", "y": "independent"}},
  "spec": {
    "width": 331,
    "height": 180,
    "layer": [
      {
        "transform": [{"filter": "isValid(datum.v)"}],
        "mark": {"type": "line", "color": "black", "strokeWidth": 4.5},
        "encoding": {
          "x": {"field": "f", "type": "quantitative", "scale": {"domain": [8, 15], "nice": false, "zero": false},
                "axis": {"title": null, "values": [8.4, 11.7, 13.8, 14.7], "format": ".4~g", "grid": false, "ticks": false, "domain": false, "labelPadding": 4}},
          "y": {"field": "v", "type": "quantitative", "scale": {"domain": [-0.44, 1], "nice": false, "zero": false},
                "axis": {"title": null, "values": [0, 0.5, 0.75, 1], "format": ".4~g", "grid": true, "ticks": false, "domain": false, "labelPadding": 5}}
        }
      },
      {
        "transform": [{"filter": "isValid(datum.v)"}],
        "mark": {"type": "point", "shape": "cross", "filled": true, "color": "black", "size": 55, "opacity": 1},
        "encoding": {
          "x": {"field": "f", "type": "quantitative"},
          "y": {"field": "v", "type": "quantitative"}
        }
      },
      {
        "transform": [{"filter": "isValid(datum.m)"}],
        "mark": {"type": "rule", "color": "#d8262c", "strokeWidth": 1.6},
        "encoding": {
          "x": {"field": "m", "type": "quantitative"}
        }
      },
      {
        "transform": [{"filter": "isValid(datum.m)"}],
        "mark": {"type": "point", "filled": true, "color": "#d8262c", "size": 55, "opacity": 1},
        "encoding": {
          "x": {"field": "m", "type": "quantitative"},
          "y": {"datum": -0.44}
        }
      }
    ]
  },
  "config": {
    "view": {"stroke": "#c2c2c2", "strokeWidth": 1.5},
    "axis": {"labelFont": "Liberation Sans", "labelFontSize": 12, "labelColor": "#333333", "gridColor": "#ececec", "gridWidth": 1}
  }
}
